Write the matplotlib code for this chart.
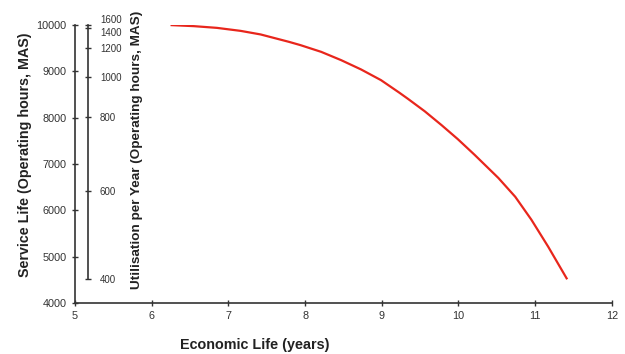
import matplotlib
matplotlib.use("Agg")
import matplotlib.pyplot as plt

plt.rcParams['font.family'] = ['Liberation Sans', 'DejaVu Sans']

# curve
economic_life = [6.26, 6.55, 6.85, 7.16, 7.42, 7.79, 7.94, 8.21, 8.47, 8.73,
                 8.99, 9.23, 9.34, 9.56, 9.78, 9.99, 10.21, 10.52,
                 10.74, 10.95, 11.17, 11.41]
service_life = [10000, 9978, 9941, 9876, 9799, 9639, 9568, 9423, 9244, 9043,
                8812, 8540, 8410, 8140, 7840, 7540, 7200, 6700,
                6294, 5800, 5215, 4533]

x_ticks = [5, 6, 7, 8, 9, 10, 11, 12]
y_ticks = [4000, 5000, 6000, 7000, 8000, 9000, 10000]

# utilisation scale: labels and the service-life level each one sits at
util_labels = ['400', '600', '800', '1000', '1200', '1400', '1600']
util_at_service = [4512, 6425, 8017, 8881, 9514, 9935, 10000]

fig = plt.figure(figsize=(6.25, 3.54), dpi=100)
ax = fig.add_axes([0.12, 0.144, 0.859, 0.785])

ax.plot(economic_life, service_life, color='#e8261c', linewidth=1.6)
ax.set_xlim(5, 12)
ax.set_ylim(4000, 10000)
ax.set_xticks(x_ticks)
ax.set_yticks(y_ticks)
ax.tick_params(direction='inout', length=5, width=1, labelsize=7.8, colors='#333333')
for side in ['top', 'right']:
    ax.spines[side].set_visible(False)
for side in ['left', 'bottom']:
    ax.spines[side].set_linewidth(1.2)
    ax.spines[side].set_color('#333333')

# second vertical scale
ax2 = fig.add_axes([0.1408, 0.144, 0.0001, 0.785])
ax2.set_ylim(4000, 10000)
ax2.patch.set_visible(False)
for side in ['top', 'right', 'bottom']:
    ax2.spines[side].set_visible(False)
ax2.spines['left'].set_bounds(util_at_service[0], util_at_service[-1])
ax2.spines['left'].set_linewidth(1.2)
ax2.spines['left'].set_color('#333333')
ax2.set_xticks([])
ax2.set_yticks(util_at_service)
ax2.set_yticklabels(util_labels)
ax2.yaxis.set_ticks_position('left')
ax2.tick_params(axis='y', direction='inout', length=5, width=1, labelsize=7,
                labelleft=False, labelright=True, colors='#333333', pad=6)
# the top two labels sit almost on top of each other
ticks2 = ax2.yaxis.get_major_ticks()
ticks2[-1].label2.set_verticalalignment('bottom')
ticks2[-2].label2.set_verticalalignment('top')

fig.text(0.408, 0.025, 'Economic Life (years)', fontsize=10.4, fontweight='bold',
         ha='center', va='center', color='#222222')
fig.text(0.04, 0.562, 'Service Life (Operating hours, MAS)', fontsize=10.3,
         fontweight='bold', rotation=90, ha='center', va='center', color='#222222')
fig.text(0.219, 0.576, 'Utilisation per Year (Operating hours, MAS)', fontsize=9.7,
         fontweight='bold', rotation=90, ha='center', va='center', color='#222222')

fig.savefig('out.png', dpi=100)
